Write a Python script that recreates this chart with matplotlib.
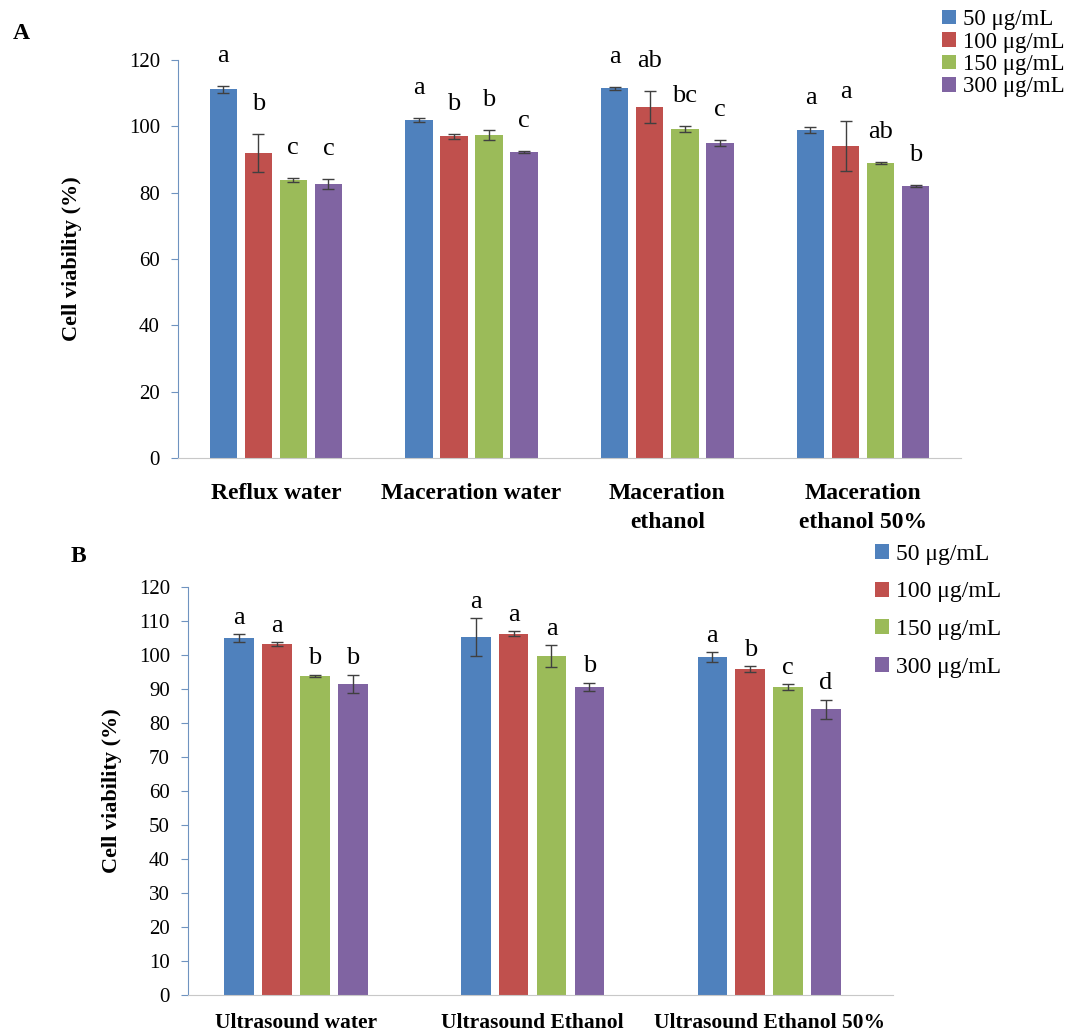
"""
Cell viability of extracts at four concentrations (panels A and B)
"""

import numpy as np
import matplotlib.pyplot as plt

plt.rcParams['font.family'] = ['Liberation Serif', 'DejaVu Serif']

# concentrations and colours
concentrations = ['50 μg/mL', '100 μg/mL', '150 μg/mL', '300 μg/mL']
colors = ['#4F81BD', '#C0504D', '#9BBB59', '#8064A2']

# panel A
cats_a = ['Reflux water', 'Maceration water', 'Maceration\nethanol', 'Maceration\nethanol 50%']
mean_a = [[111.2, 101.9, 111.5, 98.9],
          [92.0, 97.0, 105.8, 94.0],
          [83.8, 97.4, 99.2, 89.0],
          [82.6, 92.2, 95.0, 82.0]]
err_a = [[1.0, 0.7, 0.5, 0.8],
         [5.8, 0.8, 4.8, 7.5],
         [0.7, 1.5, 1.0, 0.4],
         [1.5, 0.3, 0.8, 0.3]]
letters_a = [['a', 'a', 'a', 'a'],
             ['b', 'b', 'ab', 'a'],
             ['c', 'b', 'bc', 'ab'],
             ['c', 'c', 'c', 'b']]

# panel B
cats_b = ['Ultrasound water', 'Ultrasound Ethanol', 'Ultrasound Ethanol 50%']
mean_b = [[105.0, 105.3, 99.4],
          [103.2, 106.2, 95.9],
          [93.8, 99.7, 90.6],
          [91.5, 90.6, 84.1]]
err_b = [[1.1, 5.6, 1.5],
         [0.5, 0.7, 0.8],
         [0.4, 3.2, 0.8],
         [2.7, 1.3, 2.8]]
letters_b = [['a', 'a', 'a'],
             ['a', 'a', 'b'],
             ['b', 'a', 'c'],
             ['b', 'b', 'd']]


def draw_panel(ax, cats, means, errs, letters, step, width, yticks, letter_off,
               cat_size, cat_pad, label_pad):
    x = np.arange(len(cats))
    handles = []
    for i in range(len(means)):
        xs = x + (i - 1.5) * step
        h = ax.bar(xs, means[i], width, color=colors[i], label=concentrations[i],
                   yerr=errs[i], capsize=4,
                   error_kw=dict(ecolor='#404040', elinewidth=1, capthick=1))
        handles.append(h)
        for xi, m, e, l in zip(xs, means[i], errs[i], letters[i]):
            ax.text(xi, m + e + letter_off, l, ha='center', va='center', fontsize=19)
    ax.set_xticks(x)
    ax.set_xticklabels(cats, fontsize=cat_size, fontweight='bold', linespacing=1.5)
    ax.set_ylim(0, 120)
    ax.set_yticks(yticks)
    ax.tick_params(axis='y', labelsize=15, direction='out', length=5,
                   color='#6F93C0', pad=8)
    ax.tick_params(axis='x', length=0, pad=cat_pad)
    ax.set_ylabel('Cell viability (%)', fontsize=16, fontweight='bold',
                  labelpad=label_pad)
    for s in ['top', 'right']:
        ax.spines[s].set_visible(False)
    ax.spines['left'].set_color('#6F93C0')
    ax.spines['bottom'].set_color('#C8C8C8')
    return handles


fig = plt.figure(figsize=(10.74, 10.35), dpi=100)

ax_a = fig.add_axes([0.1657, 0.5575, 0.729, 0.3845])
h_a = draw_panel(ax_a, cats_a, mean_a, err_a, letters_a, 0.179, 0.14,
                 np.arange(0, 121, 20), 9, 17, 18, 34)
ax_a.set_xlim(-0.5, 3.5)

ax_b = fig.add_axes([0.175, 0.0386, 0.6565, 0.3943])
h_b = draw_panel(ax_b, cats_b, mean_b, err_b, letters_b, 0.16, 0.125,
                 np.arange(0, 121, 10), 4.8, 15.5, 13, 12)
ax_b.set_xlim(-0.457, 2.524)

fig.legend(h_a, concentrations, loc='upper left', bbox_to_anchor=(0.858, 1.011),
           frameon=False, fontsize=16.5, handlelength=0.6, handleheight=0.6,
           handletextpad=0.3, labelspacing=0.06)
fig.legend(h_b, concentrations, loc='upper left', bbox_to_anchor=(0.795, 0.495),
           frameon=False, fontsize=17, handlelength=0.6, handleheight=0.6,
           handletextpad=0.3, labelspacing=0.7)

fig.text(0.012, 0.968, 'A', fontsize=17, fontweight='bold', va='center')
fig.text(0.066, 0.462, 'B', fontsize=17, fontweight='bold', va='center')

fig.savefig('out.png', dpi=100)
